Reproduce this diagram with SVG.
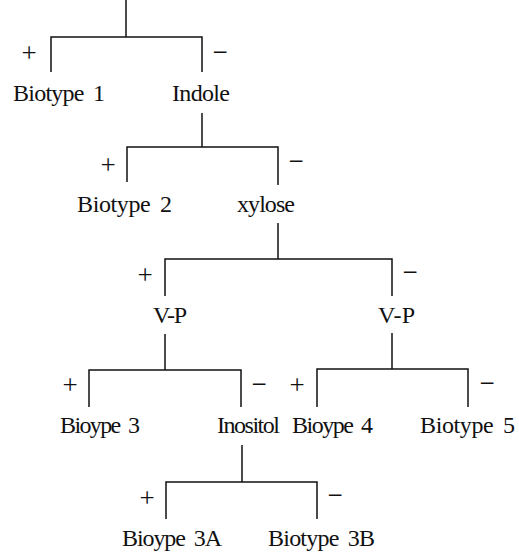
<svg xmlns="http://www.w3.org/2000/svg" width="519" height="554" viewBox="0 0 519 554">
<style>
.t{font-family:"Liberation Serif","Times New Roman",serif;font-size:24px;fill:#111;word-spacing:4px}
.s{font-family:"Liberation Serif","Times New Roman",serif;font-size:27px;fill:#111;text-anchor:middle}
.c{fill:none;stroke:#111;stroke-width:1.5}
</style>
<rect width="519" height="554" fill="#fff"/>
<g id="connectors">
<path class="c" d="M126,0 V37"/>
<path class="c" d="M51,72 V37 H202 V72"/>
<path class="c" d="M202,113 V147"/>
<path class="c" d="M127,182 V147 H278 V185"/>
<path class="c" d="M278,223 V259"/>
<path class="c" d="M165,296 V259 H392 V296"/>
<path class="c" d="M165,334 V370"/>
<path class="c" d="M89,407 V370 H241 V407"/>
<path class="c" d="M392,333 V369"/>
<path class="c" d="M317,407 V369 H468 V407"/>
<path class="c" d="M242,445 V482"/>
<path class="c" d="M166,519 V482 H317 V519"/>
</g>
<g id="signs">
<text class="s" x="29" y="62">+</text>
<text class="s" x="220" y="61">−</text>
<text class="s" x="108" y="174">+</text>
<text class="s" x="296" y="170">−</text>
<text class="s" x="145" y="284">+</text>
<text class="s" x="410" y="281">−</text>
<text class="s" x="70" y="394">+</text>
<text class="s" x="259" y="393">−</text>
<text class="s" x="297" y="394">+</text>
<text class="s" x="487" y="392">−</text>
<text class="s" x="147" y="507">+</text>
<text class="s" x="335" y="504">−</text>
</g>
<g id="biotype1"><text class="t" x="13" y="101" textLength="92" lengthAdjust="spacing">Biotype 1</text></g>
<g id="indole"><text class="t" x="172" y="101" textLength="58" lengthAdjust="spacing">Indole</text></g>
<g id="biotype2"><text class="t" x="77" y="212" textLength="95" lengthAdjust="spacing">Biotype 2</text></g>
<g id="xylose"><text class="t" x="237" y="212" textLength="58" lengthAdjust="spacing">xylose</text></g>
<g id="vp-plus"><text class="t" x="153" y="323" textLength="34" lengthAdjust="spacing">V-P</text></g>
<g id="vp-minus"><text class="t" x="378" y="323" textLength="37" lengthAdjust="spacing">V-P</text></g>
<g id="bioype3"><text class="t" x="60" y="433" textLength="80" lengthAdjust="spacing">Bioype 3</text></g>
<g id="inositol"><text class="t" x="217" y="433" textLength="63" lengthAdjust="spacing">Inositol</text></g>
<g id="bioype4"><text class="t" x="292" y="433" textLength="81" lengthAdjust="spacing">Bioype 4</text></g>
<g id="biotype5"><text class="t" x="420" y="433" textLength="95" lengthAdjust="spacing">Biotype 5</text></g>
<g id="bioype3a"><text class="t" x="122" y="546" textLength="100" lengthAdjust="spacing">Bioype 3A</text></g>
<g id="biotype3b"><text class="t" x="268" y="546" textLength="107" lengthAdjust="spacing">Biotype 3B</text></g>
</svg>
